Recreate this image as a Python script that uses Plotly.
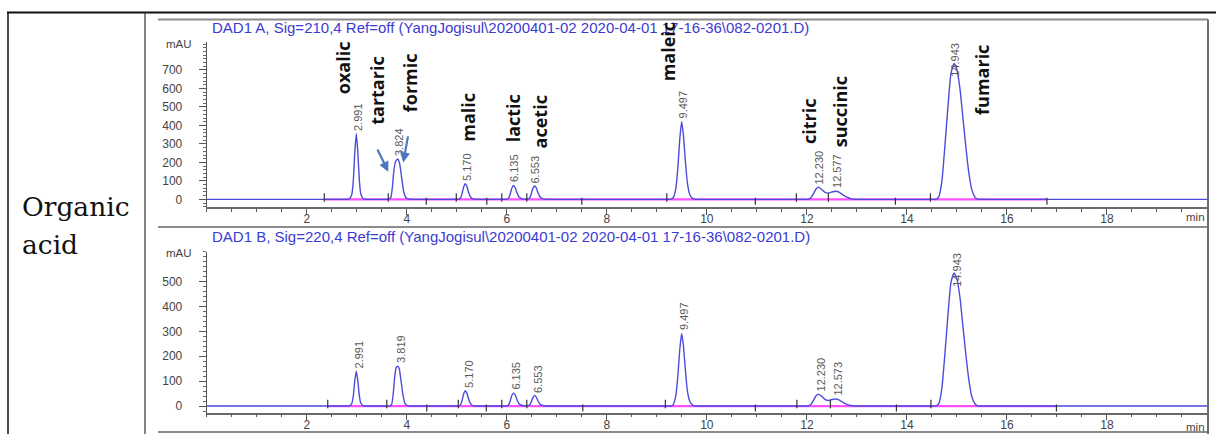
import plotly.graph_objects as go

# ---------------- data ----------------
# DAD1 A, 210 nm trace: retention time (min) and absorbance (mAU)
top_time = [0, 2.40, 2.80, 2.85, 2.90, 2.93, 2.96, 2.991, 3.02, 3.05, 3.08, 3.13, 3.20,
            3.58, 3.62, 3.68, 3.71, 3.74, 3.77, 3.80, 3.824, 3.86, 3.90, 3.94, 3.98, 4.04, 4.12,
            4.98, 5.04, 5.08, 5.11, 5.14, 5.17, 5.20, 5.23, 5.27, 5.32, 5.40,
            5.94, 6.00, 6.04, 6.07, 6.10, 6.135, 6.17, 6.20, 6.24, 6.30, 6.36,
            6.42, 6.46, 6.49, 6.52, 6.553, 6.59, 6.62, 6.66, 6.72, 6.80, 6.90,
            9.20, 9.28, 9.33, 9.38, 9.42, 9.46, 9.497, 9.53, 9.57, 9.61, 9.66, 9.72, 9.78, 9.86,
            11.94, 12.02, 12.08, 12.13, 12.18, 12.23, 12.29, 12.36, 12.43, 12.50, 12.577,
            12.65, 12.72, 12.80, 12.88, 12.97, 13.05,
            14.50, 14.58, 14.64, 14.70, 14.76, 14.82, 14.88, 14.943, 15.00, 15.06, 15.12,
            15.18, 15.24, 15.30, 15.36, 15.42, 15.50, 17.0, 20.0]
top_mau = [0, 0, 0, 2, 25, 95, 250, 355, 262, 112, 30, 3, 0,
           0, 0, 10, 60, 150, 200, 214, 218, 190, 112, 40, 10, 1, 0,
           0, 0, 10, 35, 70, 85, 72, 42, 15, 2, 0,
           0, 0, 8, 30, 60, 75, 63, 38, 14, 3, 1,
           2, 8, 30, 58, 72, 62, 38, 14, 3, 0, 0,
           0, 0, 10, 60, 170, 330, 420, 350, 210, 90, 25, 4, 0, 0,
           0, 0, 8, 30, 55, 66, 55, 38, 34, 40, 44,
           38, 24, 12, 4, 0, 0,
           0, 0, 15, 100, 290, 500, 680, 735, 700, 600, 440,
           280, 140, 50, 12, 0, 0, 0, 0]

# DAD1 B, 220 nm trace
bot_time = [0, 2.40, 2.80, 2.85, 2.90, 2.93, 2.96, 2.991, 3.02, 3.05, 3.08, 3.13, 3.20,
            3.60, 3.66, 3.70, 3.73, 3.76, 3.79, 3.819, 3.85, 3.88, 3.92, 3.96, 4.02, 4.10,
            4.98, 5.04, 5.08, 5.11, 5.14, 5.17, 5.20, 5.23, 5.27, 5.33, 5.40,
            5.94, 6.00, 6.04, 6.07, 6.10, 6.135, 6.17, 6.20, 6.24, 6.30, 6.36,
            6.42, 6.46, 6.49, 6.52, 6.553, 6.59, 6.62, 6.66, 6.72, 6.80, 6.90,
            9.20, 9.28, 9.33, 9.38, 9.42, 9.46, 9.497, 9.53, 9.57, 9.61, 9.66, 9.72, 9.78, 9.86,
            11.94, 12.02, 12.08, 12.13, 12.18, 12.23, 12.29, 12.36, 12.43, 12.50, 12.573,
            12.65, 12.72, 12.80, 12.88, 12.97, 13.05,
            14.50, 14.58, 14.64, 14.70, 14.76, 14.82, 14.88, 14.943, 15.00, 15.06, 15.12,
            15.18, 15.24, 15.30, 15.36, 15.42, 15.50, 17.0, 20.0]
bot_mau = [0, 0, 0, 1, 10, 38, 100, 140, 104, 45, 12, 1, 0,
           0, 0, 8, 50, 120, 155, 160, 150, 110, 50, 12, 1, 0,
           0, 0, 7, 25, 50, 62, 53, 32, 11, 1, 0,
           0, 0, 6, 21, 42, 52, 44, 27, 10, 2, 1,
           1, 5, 17, 33, 42, 36, 22, 8, 2, 0, 0,
           0, 0, 7, 42, 120, 230, 292, 245, 148, 62, 18, 3, 0, 0,
           0, 0, 6, 22, 40, 48, 40, 27, 22, 26, 28,
           24, 15, 7, 2, 0, 0,
           0, 0, 11, 73, 210, 365, 495, 535, 510, 437, 320,
           204, 102, 36, 9, 0, 0, 0, 0]

# integrated peaks: retention time and apex height (mAU)
top_peak_rt = [2.991, 3.824, 5.170, 6.135, 6.553, 9.497, 12.230, 12.577, 14.943]
top_peak_h = [355, 218, 85, 75, 72, 420, 66, 44, 735]
bot_peak_rt = [2.991, 3.819, 5.170, 6.135, 6.553, 9.497, 12.230, 12.573, 14.943]
bot_peak_h = [140, 160, 62, 52, 42, 292, 48, 28, 535]

# integration baseline span and integration event marks (min)
top_base_span = [2.35, 16.8]
bot_base_span = [2.42, 17.0]
top_marks_up = [2.35, 3.63, 4.99, 5.9, 6.4, 9.2, 11.79, 12.43, 14.47]
top_marks_down = [4.39, 5.6, 7.5, 10.97, 13.77, 16.8]
bot_marks_up = [2.42, 3.6, 5.03, 5.9, 6.4, 9.17, 11.8, 12.47, 14.48]
bot_marks_down = [4.4, 5.59, 7.52, 10.97, 13.79, 16.99]

# compound names written on the upper chromatogram
compound_names = ["oxalic", "tartaric", "formic", "malic", "lactic", "acetic",
                  "maleic", "citric", "succinic", "fumaric"]

x_tick_vals = [2, 4, 6, 8, 10, 12, 14, 16, 18]
top_y_ticks = [0, 100, 200, 300, 400, 500, 600, 700]
bot_y_ticks = [0, 100, 200, 300, 400, 500]

title_a = r"DAD1 A, Sig=210,4 Ref=off (YangJogisul\20200401-02 2020-04-01 17-16-36\082-0201.D)"
title_b = r"DAD1 B, Sig=220,4 Ref=off (YangJogisul\20200401-02 2020-04-01 17-16-36\082-0201.D)"
row_label = ["Organic", "acid"]

# ---------------- layout helpers ----------------
W, H = 1216, 434
def px(x):
    return x / W
def py(y):
    return 1 - y / H

TOP_RANGE = [-43, 853]
BOT_RANGE = [-26, 620]
X_RANGE = [0, 20.0]

BLUE = "#4c4cdc"
PINK = "#ff50ff"
SANS = "Liberation Sans, Arial, sans-serif"

fig = go.Figure()

def add_panel(xa, ya, t, v, span, up, down, mark_off):
    fig.add_trace(go.Scatter(x=span, y=[0, 0], mode="lines", xaxis=xa, yaxis=ya,
                             line=dict(color=PINK, width=2.2), hoverinfo="skip"))
    fig.add_trace(go.Scatter(x=t, y=v, mode="lines", xaxis=xa, yaxis=ya,
                             line=dict(color=BLUE, width=1.4, shape="spline", smoothing=0.5)))
    fig.add_trace(go.Scatter(x=up, y=[mark_off] * len(up), mode="markers", xaxis=xa, yaxis=ya,
                             marker=dict(symbol="line-ns", size=6,
                                         line=dict(color="#333", width=1.2))))
    fig.add_trace(go.Scatter(x=down, y=[-mark_off] * len(down), mode="markers", xaxis=xa, yaxis=ya,
                             marker=dict(symbol="line-ns", size=5,
                                         line=dict(color="#333", width=1.2))))

add_panel("x", "y", top_time, top_mau, top_base_span, top_marks_up, top_marks_down, 10)
add_panel("x2", "y2", bot_time, bot_mau, bot_base_span, bot_marks_up, bot_marks_down, 8)

xcommon = dict(range=X_RANGE, showline=True, linecolor="#6a6a6a", linewidth=1.5,
               ticks="outside", ticklen=6, tickwidth=1, tickcolor="#555",
               tickmode="array", tickvals=x_tick_vals, ticktext=[str(v) for v in x_tick_vals],
               minor=dict(ticks="outside", tickmode="linear", tick0=0, dtick=0.5,
                          ticklen=3, tickwidth=1, tickcolor="#555"),
               tickfont=dict(family=SANS, size=12, color="#444"),
               ticklabelstandoff=-6,
               showgrid=False, zeroline=False, fixedrange=True)
ycommon = dict(showline=True, linecolor="#555", linewidth=1,
               ticks="outside", ticklen=7, tickwidth=1, tickcolor="#555",
               tickmode="array",
               minor=dict(ticks="outside", tickmode="linear", tick0=0, dtick=20,
                          ticklen=3, tickwidth=1, tickcolor="#666"),
               tickfont=dict(family=SANS, size=12, color="#444"),
               ticklabelstandoff=14,
               showgrid=False, zeroline=False, fixedrange=True)

fig.update_layout(
    width=W, height=H, margin=dict(l=0, r=0, t=0, b=0),
    paper_bgcolor="white", plot_bgcolor="white", showlegend=False,
    xaxis=dict(domain=[px(206.7), px(1207)], anchor="y", **xcommon),
    yaxis=dict(domain=[py(207.3), py(41.7)], anchor="x", range=TOP_RANGE,
               tickvals=top_y_ticks, ticktext=[str(v) for v in top_y_ticks], **ycommon),
    xaxis2=dict(domain=[px(206.7), px(1207)], anchor="y2", **xcommon),
    yaxis2=dict(domain=[py(412.5), py(251.7)], anchor="x2", range=BOT_RANGE,
                tickvals=bot_y_ticks, ticktext=[str(v) for v in bot_y_ticks], **ycommon),
)

ann = []
# panel titles
for txt, y in [(title_a, 27), (title_b, 236)]:
    ann.append(dict(xref="paper", yref="paper", x=px(210), y=py(y), text=txt,
                    showarrow=False, xanchor="left", yanchor="middle",
                    font=dict(family=SANS, size=15, color="#3b3bd2")))
# unit labels
for y in [44, 253]:
    ann.append(dict(xref="paper", yref="paper", x=px(179), y=py(y), text="mAU",
                    showarrow=False, xanchor="center", yanchor="middle",
                    font=dict(family=SANS, size=11.5, color="#444")))
for y in [217, 427]:
    ann.append(dict(xref="paper", yref="paper", x=px(1207), y=py(y), text="min",
                    showarrow=False, xanchor="right", yanchor="middle",
                    font=dict(family=SANS, size=11.5, color="#444")))
# row label of the table
for txt, y in zip(row_label, [206, 244]):
    ann.append(dict(xref="paper", yref="paper", x=px(20), y=py(y), text=txt,
                    showarrow=False, xanchor="left", yanchor="middle",
                    font=dict(family="DejaVu Serif, serif", size=26.5, color="#111")))

# retention-time labels above each peak
def peak_labels(xr, yr, rts, hs, ytop, dx):
    for rt, h in zip(rts, hs):
        if h > 0.75 * ytop:
            y, yanc = ytop, "top"
        else:
            y, yanc = h, "bottom"
        ann.append(dict(xref=xr, yref=yr, x=rt, y=y, text=f"{rt:.3f}", textangle=-90,
                        showarrow=False, xanchor="center", yanchor=yanc, yshift=1, xshift=dx,
                        font=dict(family=SANS, size=11, color="#5a5a5a")))

peak_labels("x", "y", top_peak_rt, top_peak_h, TOP_RANGE[1], 1)
peak_labels("x2", "y2", bot_peak_rt, bot_peak_h, BOT_RANGE[1], 3)

# compound name positions (placement on the upper chromatogram)
name_pos = [(2.73, 711), (3.40, 586), (4.07, 630), (5.22, 446), (6.13, 440), (6.67, 418),
            (9.22, 800), (12.04, 423), (12.67, 473), (15.50, 646)]
for name, (nx, ny) in zip(compound_names, name_pos):
    ann.append(dict(xref="x", yref="y", x=nx, y=ny, text=f"<b>{name}</b>", textangle=-90,
                    showarrow=False, xanchor="center", yanchor="middle",
                    font=dict(family="Open Sans, Noto Sans, sans-serif", size=18, color="#111")))

# arrows pointing at tartaric / formic
for (hx, hy, tx, ty) in [(3.63, 150, 3.40, 278), (3.93, 200, 4.03, 349)]:
    ann.append(dict(xref="x", yref="y", x=hx, y=hy, axref="x", ayref="y", ax=tx, ay=ty,
                    text="", showarrow=True, arrowhead=2, arrowsize=0.9, arrowwidth=2.2,
                    arrowcolor="#4a78c0"))

fig.update_layout(annotations=ann)

# table borders and chromatogram frame
shapes = [
    dict(type="line", xref="paper", yref="paper", x0=px(7), x1=1, y0=py(12.5), y1=py(12.5),
         line=dict(color="#111", width=2)),
    dict(type="line", xref="paper", yref="paper", x0=px(8), x1=px(8), y0=py(12.5), y1=0,
         line=dict(color="#111", width=1.5)),
    dict(type="line", xref="paper", yref="paper", x0=px(145), x1=px(145), y0=py(12.5), y1=0,
         line=dict(color="#333", width=1.2)),
    dict(type="line", xref="paper", yref="paper", x0=px(158), x1=px(1208), y0=py(19.5), y1=py(19.5),
         line=dict(color="#8c8c8c", width=2)),
    dict(type="line", xref="paper", yref="paper", x0=px(158), x1=px(1208), y0=py(227), y1=py(227),
         line=dict(color="#8c8c8c", width=2)),
    dict(type="line", xref="paper", yref="paper", x0=px(158), x1=px(1208), y0=py(432), y1=py(432),
         line=dict(color="#8c8c8c", width=2)),
    dict(type="line", xref="paper", yref="paper", x0=px(1208), x1=px(1208), y0=py(19.5), y1=0,
         line=dict(color="#6e6e6e", width=2)),
]
fig.update_layout(shapes=shapes)

fig.write_html("out.html", config={"displayModeBar": False},
               post_script="document.body.style.margin='0';document.body.style.overflow='hidden';")
